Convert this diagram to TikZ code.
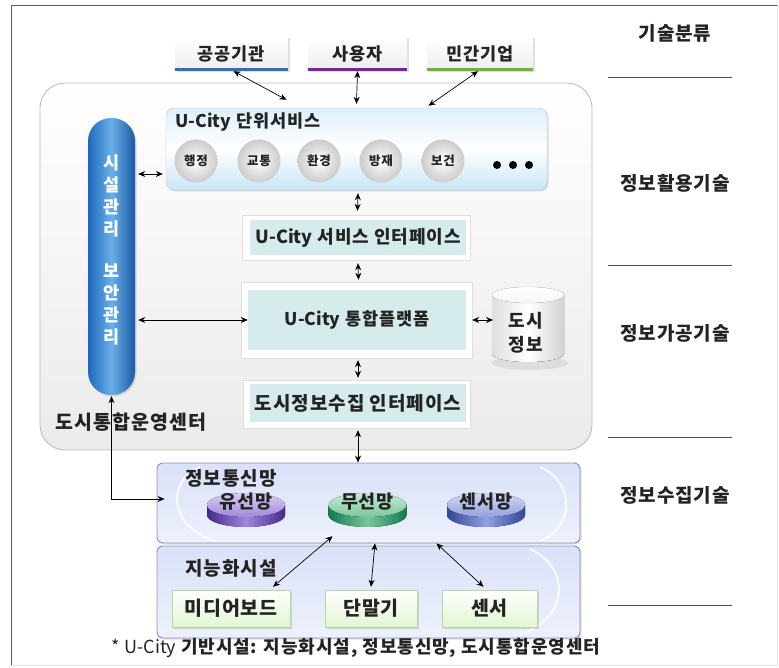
\documentclass[tikz,border=0pt]{standalone}
\usepackage{fontspec}
\setmainfont{Noto Sans CJK KR}[LetterSpace=5]
\usetikzlibrary{arrows.meta,shadows}
\newcommand\uc{{\addfontfeature{LetterSpace=0}U-City}}
\definecolor{txt}{RGB}{35,35,35}
\definecolor{barBlue}{RGB}{50,110,185}
\definecolor{barPurple}{RGB}{130,30,160}
\definecolor{barGreen}{RGB}{110,180,50}
\definecolor{pillDark}{RGB}{30,105,190}
\definecolor{pillLight}{RGB}{105,175,232}
\definecolor{tealIn}{RGB}{214,236,236}
\definecolor{svcBlue}{RGB}{200,230,246}
\definecolor{netTop}{RGB}{218,225,248}
\definecolor{netBot}{RGB}{238,241,252}
\definecolor{netBorder}{RGB}{135,145,180}
\definecolor{greenFill}{RGB}{226,246,210}
\definecolor{greenBorder}{RGB}{185,215,165}
\definecolor{pkPurpleD}{RGB}{70,40,140}
\definecolor{pkPurpleL}{RGB}{160,135,220}
\definecolor{pkGreenD}{RGB}{20,120,80}
\definecolor{pkGreenL}{RGB}{120,200,155}
\definecolor{pkBlueD}{RGB}{50,70,150}
\definecolor{pkBlueL}{RGB}{145,160,225}
\newcommand\mypuck[5]{%
  \fill[left color=#2, right color=#2, middle color=#3] (#1-39,162) -- (#1-39,152) arc[start angle=180,end angle=360,x radius=39,y radius=12] -- (#1+39,162) -- cycle;
  \fill[top color=#3!40!white, bottom color=#3] (#1,162) ellipse[x radius=39, y radius=12];
  \node[font=\fontsize{18.5}{18.5}\selectfont\bfseries, text=txt] (#4) at (#1,165) {#5};
}
\begin{document}
\begin{tikzpicture}[x=1pt,y=1pt,
  dbl/.style={{Stealth[length=7pt,width=6pt]}-{Stealth[length=7pt,width=6pt]}, line width=0.7pt, black},
  sz/.style={font=\fontsize{#1}{#1}\selectfont\bfseries, text=txt},
  shad/.style={drop shadow={opacity=.25,shadow xshift=1.5pt,shadow yshift=-1.5pt}},
  topbox/.style={rectangle, minimum height=34pt, inner sep=0pt, top color=white, bottom color=gray!14, sz=17.5, shad},
  lbl/.style={sz=19},
  ball/.style={circle, minimum size=43pt, inner sep=0pt, inner color=white, outer color=gray!40, sz=12.5},
  outerbox/.style={rectangle, draw=gray!25, fill=white, inner sep=0pt},
  innerbox/.style={rectangle, fill=tealIn, inner sep=0pt, sz=18},
  layerbox/.style={rectangle, rounded corners=6pt, draw=netBorder, line width=0.9pt, top color=netTop, bottom color=netBot, inner sep=0pt},
  greenbox/.style={rectangle, draw=greenBorder, top color=white, bottom color=greenFill, inner sep=0pt, minimum height=37pt, sz=19.5, shad},
  sepline/.style={gray!60!black, line width=0.8pt}
]
\useasboundingbox (0,0) rectangle (779,667);
% frame
\draw[gray!20] (777,662) -- (777,2) -- (11,2);
\draw[gray!70!black, line width=0.9pt] (11,2) -- (11,662) -- (777,662);

% right labels
\node[lbl] (t0) at (675,634) {기술분류};
\node[lbl] (t1) at (675,484) {정보활용기술};
\node[lbl] (t2) at (675,334) {정보가공기술};
\node[lbl] (t3) at (675,172) {정보수집기술};
\draw[sepline] (608,590) -- (732,590);
\draw[sepline] (608,402) -- (732,402);
\draw[sepline] (608,230) -- (732,230);
\draw[sepline] (608,62) -- (732,62);

% big center box
\node[rectangle, rounded corners=25pt, draw=gray!55, line width=0.8pt, top color=white, bottom color=gray!16, minimum width=552pt, minimum height=367pt, inner sep=0pt] (center) at (316,400.5) {};
\node[sz=19.5] (centerlbl) at (131,245) {도시통합운영센터};

% top boxes
\node[topbox, minimum width=113pt] (gong) at (231.5,613) {공공기관};
\node[topbox, minimum width=99pt] (user) at (357.5,613) {사용자};
\node[topbox, minimum width=106pt] (biz) at (480,613) {민간기업};
\draw[barBlue, line width=3.5pt] ([yshift=1.75pt]gong.south west) -- ([yshift=1.75pt]gong.south east);
\draw[barPurple, line width=3.5pt] ([yshift=1.75pt]user.south west) -- ([yshift=1.75pt]user.south east);
\draw[barGreen, line width=3.5pt] ([yshift=1.75pt]biz.south west) -- ([yshift=1.75pt]biz.south east);

% service box
\node[rectangle, rounded corners=8pt, draw=gray!45, top color=svcBlue!60, bottom color=svcBlue, middle color=white, minimum width=381pt, minimum height=82pt, inner sep=0pt, shad] (svc) at (356.5,518) {};
\node[sz=17.5, anchor=west] (svctitle) at (172,545) {\uc{} 단위서비스};
\node[ball] (c1) at (196,506) {행정};
\node[ball] (c2) at (259,506) {교통};
\node[ball] (c3) at (319,506) {환경};
\node[ball] (c4) at (381,506) {방재};
\node[ball] (c5) at (443,506) {보건};
\node[circle, fill=black, inner sep=0pt, minimum size=8pt] (d1) at (497,502) {};
\node[circle, fill=black, inner sep=0pt, minimum size=8pt] (d2) at (513,502) {};
\node[circle, fill=black, inner sep=0pt, minimum size=8pt] (d3) at (529,502) {};

% pill
\node[rectangle, rounded corners=23pt, left color=pillDark, right color=pillDark!85!black, middle color=pillLight, minimum width=47pt, minimum height=277pt, inner sep=0pt, shad] (pill) at (111.5,410.5) {};
\node[align=center, text=white, font=\fontsize{17.5}{22}\selectfont\bfseries] (pilltxt) at (111.5,417) {시\\설\\관\\리\\[20pt]보\\안\\관\\리};

% interface boxes
\node[outerbox, minimum width=228pt, minimum height=45pt] (if1o) at (356,429.5) {};
\node[innerbox, minimum width=216pt, minimum height=35pt] (if1) at (358,429.5) {\uc{} 서비스 인터페이스};
\node[outerbox, minimum width=231pt, minimum height=76pt] (plato) at (356.5,347) {};
\node[innerbox, sz=17.5, minimum width=218pt, minimum height=60pt] (plat) at (357,347) {\uc{} 통합플랫폼};
\node[outerbox, minimum width=227pt, minimum height=48pt] (colo) at (356.5,263) {};
\node[innerbox, sz=19, minimum width=216pt, minimum height=38pt] (col) at (358,264) {도시정보수집 인터페이스};

% cylinder
\fill[gray!40, opacity=0.5] (530,304) ellipse[x radius=38, y radius=7];
\fill[left color=gray!25, right color=gray!35, middle color=white] (492,372) -- (492,313) arc[start angle=180,end angle=360,x radius=36,y radius=8] -- (564,372) -- cycle;
\fill[top color=white, bottom color=gray!8] (528,372) ellipse[x radius=36, y radius=8];
\draw[gray!25] (528,372) ellipse[x radius=36, y radius=8];
\node[align=center, font=\fontsize{18}{24}\selectfont\bfseries, text=txt] (cyl) at (526,334) {도시\\정보};
\coordinate (cylw) at (493,347);

% network / facility layers
\node[layerbox, minimum width=423pt, minimum height=80pt, shad] (net) at (368.5,164) {};
\node[layerbox, minimum width=423pt, minimum height=92pt, shad] (fac) at (368.5,75) {};
\draw[white, line width=2pt, opacity=0.8] (200,200) .. controls (165,185) and (170,140) .. (215,126);
\draw[white, line width=2pt, opacity=0.8] (540,200) .. controls (575,185) and (575,140) .. (540,126);
\draw[white, line width=2pt, opacity=0.8] (530,118) .. controls (570,100) and (570,50) .. (520,32);
\node[sz=19] (nettitle) at (231,189) {정보통신망};
\node[sz=19] (factitle) at (231,99) {지능화시설};
\mypuck{246}{pkPurpleD}{pkPurpleL}{p1}{유선망}
\mypuck{367.5}{pkGreenD}{pkGreenL}{p2}{무선망}
\mypuck{486}{pkBlueD}{pkBlueL}{p3}{센서망}
\node[greenbox, minimum width=118pt] (g1) at (231,58.5) {미디어보드};
\node[greenbox, minimum width=92pt] (g2) at (371,58.5) {단말기};
\node[greenbox, minimum width=95pt] (g3) at (489.5,58.5) {센서};

% footnote
\node[font=\fontsize{18}{18}\selectfont, text=txt] (foot) at (356,19) {* \uc{} \textbf{기반시설: 지능화시설, 정보통신망, 도시통합운영센터}};

% connectors
\draw[dbl] ([xshift=2pt]gong.south) -- ([xshift=-70pt,yshift=8pt]svc.north);
\draw[dbl] (user.south) -- ([yshift=4pt]svc.north);
\draw[dbl] ([xshift=-2pt]biz.south) -- ([xshift=72pt,yshift=2pt]svc.north);
\draw[dbl] ([xshift=3pt,yshift=-13pt]pill.east |- c1) -- ([xshift=-3pt,yshift=-13pt]svc.west |- c1);
\draw[dbl] ([xshift=1.5pt,yshift=-3pt]svc.south) -- ([xshift=1.5pt,yshift=4pt]if1o.north);
\draw[dbl] ([xshift=2pt,yshift=-3pt]if1o.south) -- ([xshift=2pt,yshift=2pt]plato.north);
\draw[dbl] ([xshift=3pt]pill.east |- plat) -- (plat.west);
\draw[dbl] (plato.east) -- (cylw);
\draw[dbl] ([xshift=1.5pt,yshift=-2pt]plato.south) -- ([xshift=1.5pt,yshift=2pt]colo.north);
\draw[dbl] ([xshift=1.5pt,yshift=-2pt]colo.south) -- ([xshift=1.5pt]colo.south |- net.north);
\draw[dbl] ([yshift=-1pt]pill.south) |- ([xshift=8pt,yshift=4pt]net.west);
\draw[dbl] ([xshift=42pt,yshift=3pt]g1.north) -- ([xshift=-35pt,yshift=-22pt]p2.south);
\draw[dbl] ([yshift=3pt]g2.north) -- ([xshift=4pt]g2.north |- net.south);
\draw[dbl] ([xshift=-6pt,yshift=3pt]g3.north) -- ([xshift=-53pt]g3.north |- net.south);
\end{tikzpicture}
\end{document}
